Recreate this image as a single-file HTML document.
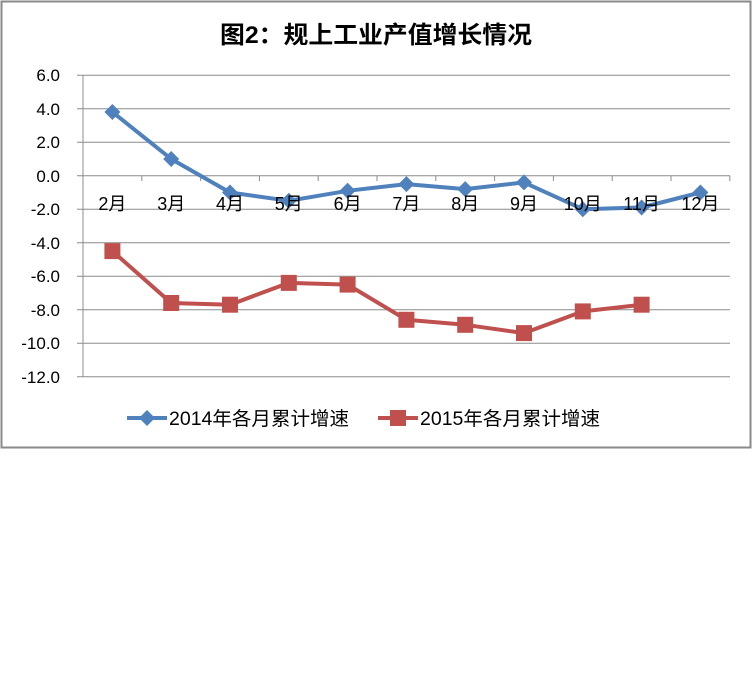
<!DOCTYPE html>
<html><head><meta charset="utf-8"><style>
html,body{margin:0;padding:0;background:#fff;width:753px;height:674px;overflow:hidden}
svg{display:block}
text{font-family:"Liberation Sans","Noto Sans CJK SC",sans-serif}
</style></head><body>
<svg width="753" height="674" viewBox="0 0 753 674" xmlns="http://www.w3.org/2000/svg">
<rect x="1.5" y="1.5" width="749" height="446" fill="#fff" stroke="#8a8a8a" stroke-width="2"/>
<text x="376" y="43" text-anchor="middle" font-size="24" font-weight="bold" fill="#000" font-family="'Noto Sans CJK SC',sans-serif" textLength="312" lengthAdjust="spacingAndGlyphs">图2：规上工业产值增长情况</text>
<g stroke="#8c8c8c" stroke-width="1">
<line x1="77" y1="75.2" x2="730" y2="75.2"/>
<line x1="77" y1="108.7" x2="730" y2="108.7"/>
<line x1="77" y1="142.2" x2="730" y2="142.2"/>
<line x1="77" y1="175.7" x2="730" y2="175.7"/>
<line x1="77" y1="209.2" x2="730" y2="209.2"/>
<line x1="77" y1="242.7" x2="730" y2="242.7"/>
<line x1="77" y1="276.2" x2="730" y2="276.2"/>
<line x1="77" y1="309.7" x2="730" y2="309.7"/>
<line x1="77" y1="343.2" x2="730" y2="343.2"/>
<line x1="77" y1="376.7" x2="730" y2="376.7"/>
<line x1="83" y1="75" x2="83" y2="377"/>
<line x1="141.8" y1="175.7" x2="141.8" y2="181"/>
<line x1="200.6" y1="175.7" x2="200.6" y2="181"/>
<line x1="259.4" y1="175.7" x2="259.4" y2="181"/>
<line x1="318.2" y1="175.7" x2="318.2" y2="181"/>
<line x1="377" y1="175.7" x2="377" y2="181"/>
<line x1="435.8" y1="175.7" x2="435.8" y2="181"/>
<line x1="494.6" y1="175.7" x2="494.6" y2="181"/>
<line x1="553.4" y1="175.7" x2="553.4" y2="181"/>
<line x1="612.2" y1="175.7" x2="612.2" y2="181"/>
<line x1="671" y1="175.7" x2="671" y2="181"/>
<line x1="729.8" y1="175.7" x2="729.8" y2="181"/>
</g>
<g font-size="17" fill="#000" text-anchor="end">
<text x="60" y="81">6.0</text>
<text x="60" y="115">4.0</text>
<text x="60" y="148">2.0</text>
<text x="60" y="182">0.0</text>
<text x="60" y="215">-2.0</text>
<text x="60" y="249">-4.0</text>
<text x="60" y="282">-6.0</text>
<text x="60" y="316">-8.0</text>
<text x="60" y="349">-10.0</text>
<text x="60" y="383">-12.0</text>
</g>
<polyline fill="none" stroke="#4f81bd" stroke-width="4" stroke-linejoin="round" points="112.4,112 171.2,159 230,192.5 288.8,200.8 347.6,190.8 406.4,184.1 465.2,189.1 524,182.4 582.8,209.2 641.6,207.5 700.4,192.5"/>
<g fill="#4f81bd">
<path d="M112.4,104 l8,8 -8,8 -8,-8z"/><path d="M171.2,151 l8,8 -8,8 -8,-8z"/><path d="M230,184.5 l8,8 -8,8 -8,-8z"/><path d="M288.8,192.8 l8,8 -8,8 -8,-8z"/><path d="M347.6,182.8 l8,8 -8,8 -8,-8z"/><path d="M406.4,176.1 l8,8 -8,8 -8,-8z"/><path d="M465.2,181.1 l8,8 -8,8 -8,-8z"/><path d="M524,174.4 l8,8 -8,8 -8,-8z"/><path d="M582.8,201.2 l8,8 -8,8 -8,-8z"/><path d="M641.6,199.5 l8,8 -8,8 -8,-8z"/><path d="M700.4,184.5 l8,8 -8,8 -8,-8z"/>
</g>
<polyline fill="none" stroke="#c0504d" stroke-width="4" stroke-linejoin="round" points="112.4,251.1 171.2,303 230,304.7 288.8,282.9 347.6,284.6 406.4,319.8 465.2,324.8 524,333.1 582.8,311.4 641.6,304.7"/>
<g fill="#c0504d">
<rect x="104.4" y="243.1" width="16" height="16"/><rect x="163.2" y="295" width="16" height="16"/><rect x="222" y="296.7" width="16" height="16"/><rect x="280.8" y="274.9" width="16" height="16"/><rect x="339.6" y="276.6" width="16" height="16"/><rect x="398.4" y="311.8" width="16" height="16"/><rect x="457.2" y="316.8" width="16" height="16"/><rect x="516" y="325.1" width="16" height="16"/><rect x="574.8" y="303.4" width="16" height="16"/><rect x="633.6" y="296.7" width="16" height="16"/>
</g>
<g font-size="18" fill="#000" text-anchor="middle">
<text x="112.4" y="210">2月</text><text x="171.2" y="210">3月</text><text x="230" y="210">4月</text><text x="288.8" y="210">5月</text><text x="347.6" y="210">6月</text><text x="406.4" y="210">7月</text><text x="465.2" y="210">8月</text><text x="524" y="210">9月</text><text x="582.8" y="210">10月</text><text x="641.6" y="210">11月</text><text x="700.4" y="210">12月</text>
</g>
<line x1="127" y1="418" x2="167" y2="418" stroke="#4f81bd" stroke-width="4"/>
<path d="M147,410 l8,8 -8,8 -8,-8z" fill="#4f81bd"/>
<text x="169" y="425" font-size="19" fill="#000" textLength="180" lengthAdjust="spacingAndGlyphs">2014年各月累计增速</text>
<line x1="378" y1="418" x2="418" y2="418" stroke="#c0504d" stroke-width="4"/>
<rect x="390" y="410" width="16" height="16" fill="#c0504d"/>
<text x="420" y="425" font-size="19" fill="#000" textLength="180" lengthAdjust="spacingAndGlyphs">2015年各月累计增速</text>
</svg>
</body></html>
